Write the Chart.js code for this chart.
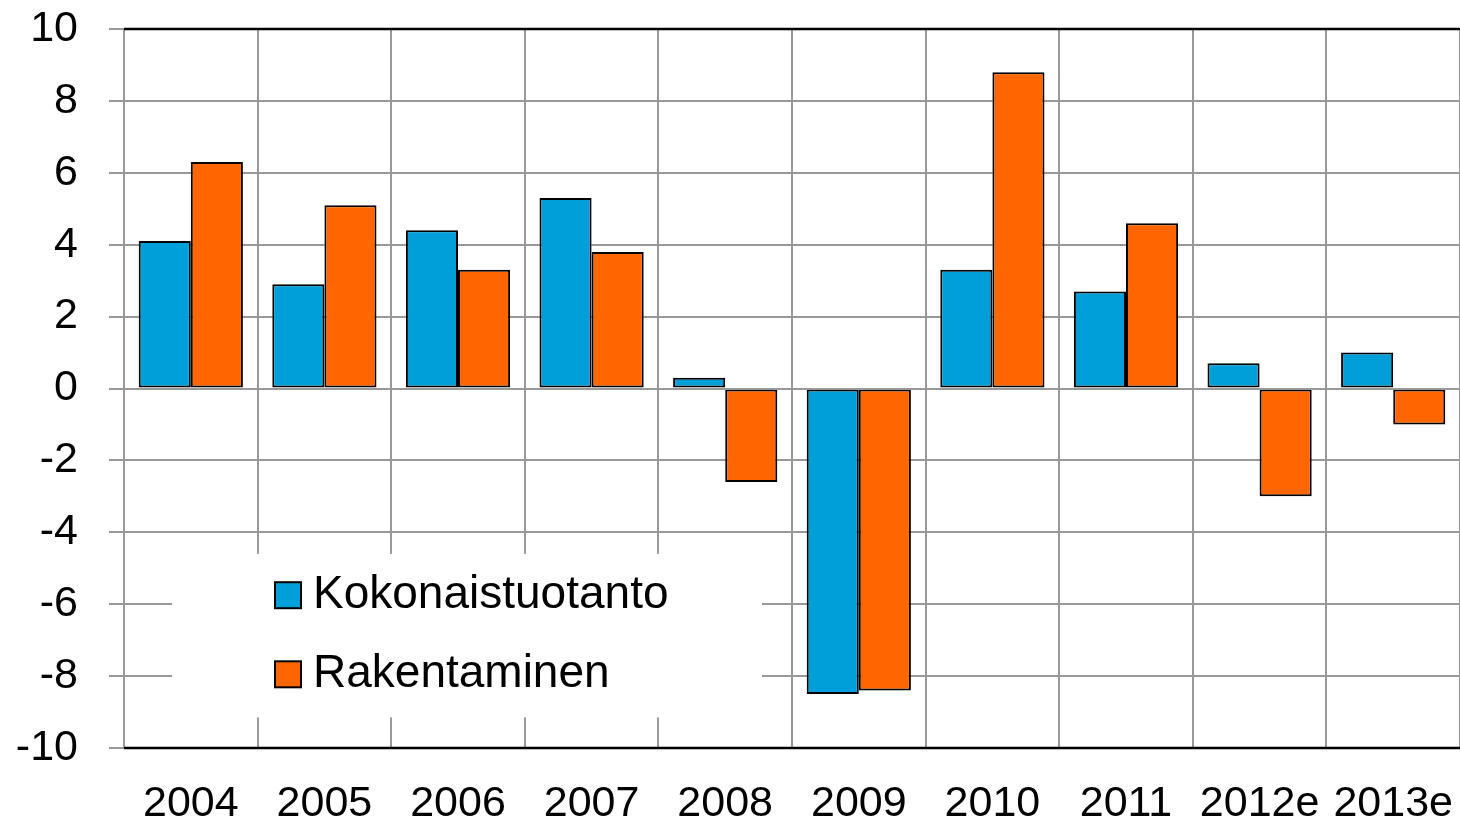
<!DOCTYPE html>
<html>
<head>
<meta charset="utf-8">
<script src="https://cdn.jsdelivr.net/npm/chart.js@4/dist/chart.umd.min.js"></script>
<style>
  html, body { margin: 0; padding: 0; background: #fff; }
  #wrap { width: 1460px; height: 819px; }
</style>
</head>
<body>
<div id="wrap"><canvas id="chart"></canvas></div>
<script>
// data
const years = ['2004', '2005', '2006', '2007', '2008', '2009', '2010', '2011', '2012e', '2013e'];
const kokonaistuotanto = [4.1, 2.9, 4.4, 5.3, 0.3, -8.5, 3.3, 2.7, 0.7, 1.0];
const rakentaminen = [6.3, 5.1, 3.3, 3.8, -2.6, -8.4, 8.8, 4.6, -3.0, -1.0];
const seriesNames = ['Kokonaistuotanto', 'Rakentaminen'];
const yTicks = [-10, -8, -6, -4, -2, 0, 2, 4, 6, 8, 10];

const FONT = '"Liberation Sans", Arial, sans-serif';
const GRID = '#999999';

// legend sits in a white box inside the plot, bottom left
const boxLegend = {
    id: 'boxLegend',
    beforeDatasetsDraw(chart) {
        const ctx = chart.ctx;
        const y = chart.scales.y;
        const area = chart.chartArea;
        const left = area.left + 48, right = area.left + 638;
        const top = y.getPixelForValue(-4.6), bottom = y.getPixelForValue(-9.15);
        ctx.save();
        ctx.fillStyle = '#fff';
        ctx.fillRect(left, top, right - left, bottom - top);

        const colors = chart.data.datasets.map(d => d.backgroundColor);
        const rows = [y.getPixelForValue(-5.75), y.getPixelForValue(-7.95)];
        ctx.font = '46px ' + FONT;
        ctx.textBaseline = 'middle';
        ctx.textAlign = 'left';
        chart.data.datasets.forEach((ds, i) => {
            const cy = rows[i];
            ctx.fillStyle = colors[i];
            ctx.fillRect(area.left + 151, cy - 13, 26, 26);
            ctx.lineWidth = 2;
            ctx.strokeStyle = '#000';
            ctx.strokeRect(area.left + 151, cy - 13, 26, 26);
            ctx.fillStyle = '#000';
            ctx.fillText(ds.label, area.left + 189, cy);
        });
        ctx.restore();
    },
    afterDatasetsDraw(chart) {
        const ctx = chart.ctx;
        const area = chart.chartArea;
        const y = chart.scales.y;
        ctx.save();
        // zero line over bar bases
        ctx.strokeStyle = GRID;
        ctx.lineWidth = 2;
        const y0 = Math.round(y.getPixelForValue(0));
        ctx.beginPath();
        ctx.moveTo(area.left, y0);
        ctx.lineTo(area.right, y0);
        ctx.stroke();
        // black top and bottom frame
        ctx.strokeStyle = '#000';
        ctx.lineWidth = 2.5;
        ctx.beginPath();
        ctx.moveTo(area.left, area.top);
        ctx.lineTo(area.right, area.top);
        ctx.moveTo(area.left, area.bottom);
        ctx.lineTo(area.right, area.bottom);
        ctx.stroke();
        ctx.restore();
    }
};

new Chart(document.getElementById('chart').getContext('2d'), {
    type: 'bar',
    data: {
        labels: years,
        datasets: [{
            label: seriesNames[0],
            data: kokonaistuotanto,
            backgroundColor: '#009fd9',
            borderColor: '#000',
            borderWidth: 2,
            borderSkipped: false
        }, {
            label: seriesNames[1],
            data: rakentaminen,
            backgroundColor: '#ff6600',
            borderColor: '#000',
            borderWidth: 2,
            borderSkipped: false
        }]
    },
    options: {
        responsive: true,
        maintainAspectRatio: false,
        animation: false,
        layout: { padding: { top: 29, right: 0, left: 0, bottom: 0 } },
        datasets: { bar: { categoryPercentage: 0.78, barPercentage: 1.0 } },
        plugins: { legend: { display: false }, tooltip: { enabled: false } },
        scales: {
            x: {
                afterFit: s => { s.height = 71; s.paddingLeft = 0; s.paddingRight = 0; },
                grid: { offset: true, color: GRID, lineWidth: 2, drawTicks: false },
                border: { display: false },
                ticks: { color: '#000', font: { family: FONT, size: 43 }, padding: 30, maxRotation: 0, autoSkip: false }
            },
            y: {
                min: -10,
                max: 10,
                afterFit: s => { s.width = 124; s.paddingTop = 0; s.paddingBottom = 0; },
                afterBuildTicks: s => { s.ticks = yTicks.map(v => ({ value: v })); },
                grid: { color: GRID, lineWidth: 2, tickLength: 15 },
                border: { display: true, color: GRID, width: 2 },
                ticks: { color: '#000', font: { family: FONT, size: 43 }, padding: 31 }
            }
        }
    },
    plugins: [boxLegend]
});
</script>
</body>
</html>
